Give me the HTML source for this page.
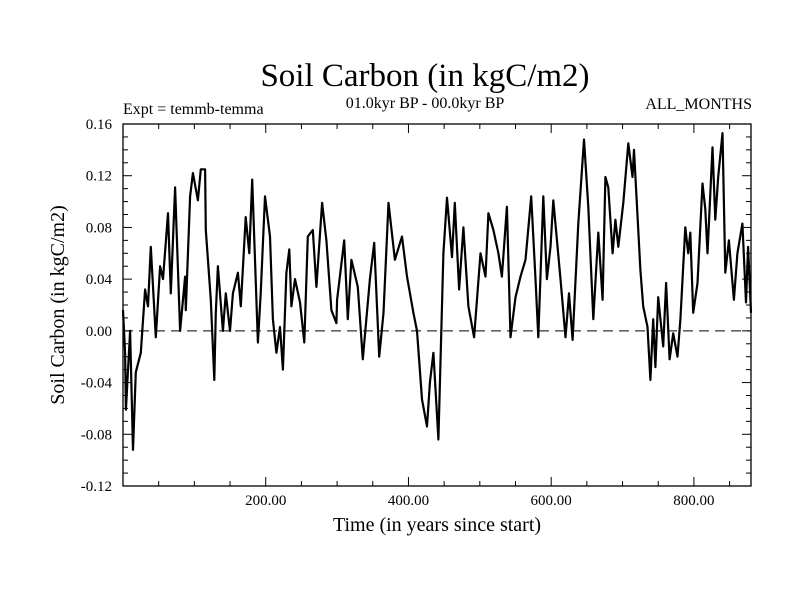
<!DOCTYPE html>
<html><head><meta charset="utf-8"><style>
html,body{margin:0;padding:0;background:#fff;}
svg{display:block;font-family:"Liberation Serif",serif;}
</style></head><body>
<svg id="chart" width="800" height="600" viewBox="0 0 800 600">
<rect width="800" height="600" fill="#fff"/>
<text x="425" y="86" font-size="33" text-anchor="middle">Soil Carbon (in kgC/m2)</text>
<text x="123" y="114" font-size="16">Expt = temmb-temma</text>
<text x="425" y="108" font-size="16" text-anchor="middle">01.0kyr BP - 00.0kyr BP</text>
<text x="752" y="109" font-size="16" text-anchor="end">ALL_MONTHS</text>
<text x="437" y="531" font-size="20" text-anchor="middle">Time (in years since start)</text>
<text transform="translate(64,305) rotate(-90)" font-size="20" text-anchor="middle">Soil Carbon (in kgC/m2)</text>
<g id="axes"></g>
<g id="plot"></g>
</svg>
<script>
const years = [0,3,4,10,14,18,25,31,35,39,46,52,56,63,67,73,80,87,88,94,98,105,109,115,116,123,128,130,133,140,144,150,154,161,165,172,177,181,185,189,193,199,206,210,215,220,224,229,233,236,241,248,254,259,266,271,279,285,292,299,300,310,315,320,329,336,346,352,359,365,372,381,391,398,407,412,419,426,430,435,442,449,454,461,465,471,477,484,492,501,508,512,519,526,531,538,543,550,557,564,572,578,582,589,594,599,603,613,620,625,630,638,646,652,659,666,672,676,680,686,690,694,701,708,714,716,725,729,735,739,743,746,750,757,761,766,771,777,781,788,792,795,799,805,812,816,819,826,830,834,840,844,849,856,861,868,873,876,880];
const values = [0.016,-0.017,-0.061,0,-0.092,-0.032,-0.017,0.032,0.019,0.065,-0.005,0.05,0.04,0.091,0.029,0.111,0,0.042,0.016,0.104,0.122,0.101,0.125,0.125,0.078,0.024,-0.038,0.014,0.05,0,0.029,0,0.029,0.045,0.019,0.088,0.06,0.117,0.055,-0.009,0.029,0.104,0.073,0.009,-0.017,0.003,-0.03,0.045,0.063,0.019,0.04,0.022,-0.009,0.073,0.078,0.034,0.099,0.07,0.016,0.006,0.024,0.07,0.009,0.055,0.034,-0.022,0.04,0.068,-0.02,0.014,0.099,0.055,0.073,0.042,0.014,0,-0.053,-0.074,-0.04,-0.017,-0.084,0.06,0.103,0.057,0.099,0.032,0.08,0.019,-0.005,0.06,0.042,0.091,0.078,0.06,0.042,0.096,-0.005,0.026,0.042,0.055,0.104,0.04,-0.005,0.104,0.04,0.065,0.101,0.04,-0.005,0.029,-0.007,0.083,0.148,0.096,0.009,0.076,0.024,0.119,0.111,0.06,0.086,0.065,0.099,0.145,0.119,0.14,0.047,0.019,0.003,-0.038,0.009,-0.028,0.026,-0.012,0.037,-0.022,-0.002,-0.02,0.009,0.08,0.06,0.076,0.014,0.037,0.114,0.094,0.06,0.142,0.086,0.119,0.153,0.045,0.07,0.024,0.06,0.083,0.022,0.065,0.014];
const xTickLabels = ["200.00","400.00","600.00","800.00"];
const xTickValues = [200,400,600,800];
const yTickLabels = ["0.16","0.12","0.08","0.04","0.00","-0.04","-0.08","-0.12"];
const yTickValues = [0.16,0.12,0.08,0.04,0,-0.04,-0.08,-0.12];

const X0=123,X1=751,Y0=124,Y1=486,XMIN=0,XMAX=880,YMIN=-0.12,YMAX=0.16;
const sx=v=>X0+(v-XMIN)/(XMAX-XMIN)*(X1-X0);
const sy=v=>Y1-(v-YMIN)/(YMAX-YMIN)*(Y1-Y0);
const NS="http://www.w3.org/2000/svg";
const axes=document.getElementById('axes'), plot=document.getElementById('plot');
function mk(t,a,p){const e=document.createElementNS(NS,t);for(const k in a)e.setAttribute(k,a[k]);p.appendChild(e);return e;}

const frame=mk('rect',{x:X0,y:Y0,width:X1-X0,height:Y1-Y0,fill:'none',stroke:'#000','stroke-width':1.3},axes);



for(let v=50;v<XMAX;v+=50){
  const major=v%200===0, L=major?9:5, x=sx(v);
  const t1=mk('line',{x1:x,x2:x,y1:Y1,y2:Y1-L,stroke:'#000','stroke-width':1},axes);
  
  
  const t2=mk('line',{x1:x,x2:x,y1:Y0,y2:Y0+L,stroke:'#000','stroke-width':1},axes);
  
  
}
for(let i=1;i<28;i++){
  const v=YMIN+i*0.01, major=i%4===0, L=major?9:5, y=sy(v);
  const t1=mk('line',{x1:X0,x2:X0+L,y1:y,y2:y,stroke:'#000','stroke-width':1},axes);
  
  
  const t2=mk('line',{x1:X1,x2:X1-L,y1:y,y2:y,stroke:'#000','stroke-width':1},axes);
  
  
}
xTickValues.forEach((v,i)=>{
  const t=mk('text',{x:sx(v),y:505,'font-size':15,'text-anchor':'middle'},axes);
  t.textContent=xTickLabels[i];
  
  
});
yTickValues.forEach((v,i)=>{
  const t=mk('text',{x:112,y:sy(v)+5,'font-size':15,'text-anchor':'end'},axes);
  t.textContent=yTickLabels[i];
  
  
});
const zl=mk('line',{x1:X0,x2:X1,y1:sy(0),y2:sy(0),stroke:'#000','stroke-width':1,'stroke-dasharray':'10,6'},plot);


const pts=years.map((y,i)=>sx(y).toFixed(1)+','+sy(values[i]).toFixed(1)).join(' ');
const line=mk('polyline',{points:pts,fill:'none',stroke:'#000','stroke-width':2.2,'stroke-linejoin':'round'},plot);


</script>
</body></html>
